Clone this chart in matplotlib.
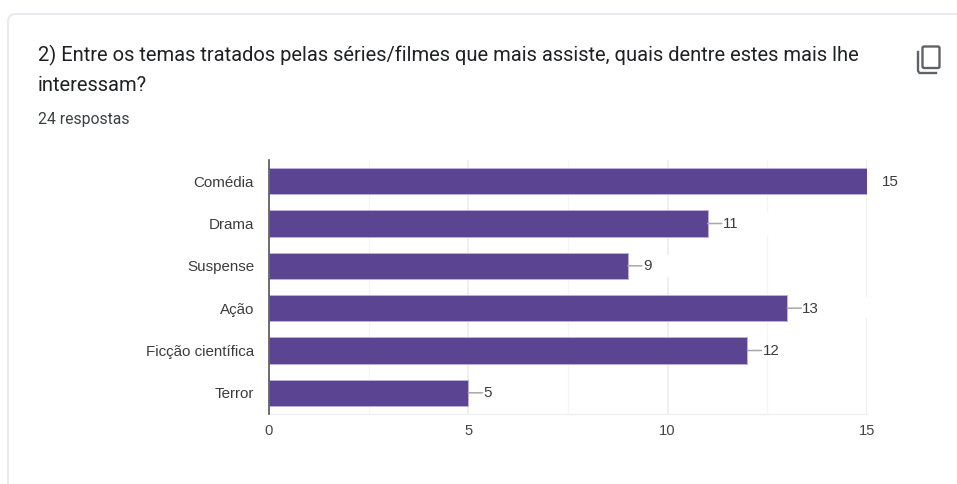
import matplotlib
matplotlib.use("Agg")
import matplotlib.pyplot as plt
from matplotlib.patches import FancyBboxPatch, Rectangle
from matplotlib.lines import Line2D

categories = ["Comédia", "Drama", "Suspense", "Ação", "Ficção científica", "Terror"]
values = [15, 11, 9, 13, 12, 5]
major_ticks = [0, 5, 10, 15]
minor_ticks = [2.5, 7.5, 12.5]
title_lines = ["2) Entre os temas tratados pelas séries/filmes que mais assiste, quais dentre estes mais lhe",
               "interessam?"]
subtitle = "24 respostas"

W, H = 957, 484
fig = plt.figure(figsize=(W / 100, H / 100), dpi=100, facecolor="white")

# Page layer in pixel coordinates
bg = fig.add_axes([0, 0, 1, 1], zorder=0)
bg.set_xlim(0, W); bg.set_ylim(H, 0); bg.axis("off")
bg.add_patch(FancyBboxPatch((8, 14), W + 40, H + 40, boxstyle="round,pad=0,rounding_size=8",
                            fc="white", ec="#ebebef", lw=1.5))
bg.text(38, 55, title_lines[0], family="Roboto", fontsize=14.5, color="#202124", va="center", ha="left")
bg.text(38, 85.5, title_lines[1], family="Roboto", fontsize=14.5, color="#202124", va="center", ha="left")
bg.text(38, 119.5, subtitle, family="Roboto", fontsize=11.3, color="#3c4043", va="center", ha="left")

# Copy icon
bg.add_patch(FancyBboxPatch((922.5, 46.5), 17, 21.5, boxstyle="round,pad=0,rounding_size=1.5",
                            fc="none", ec="#5f6368", lw=1.7))
bg.add_line(Line2D([918, 918, 919.5, 936], [52, 71, 73, 73], color="#5f6368", lw=1.7))

# Chart
ax = fig.add_axes([269 / W, 1 - 414 / H, (867 - 269) / W, (414 - 160) / H], zorder=1)
ax.patch.set_alpha(0)
ypos = list(range(len(categories)))
ax.barh(ypos, values, height=0.62, color="#5b4491", edgecolor="#bcb0d6", linewidth=0.7, zorder=3)
ax.set_xlim(0, 15)
ax.set_ylim(len(categories) - 0.5, -0.5)
ax.set_yticks(ypos, categories)
ax.set_xticks(major_ticks, [str(t) for t in major_ticks])
ax.set_xticks(minor_ticks, minor=True)
ax.tick_params(axis="both", which="both", length=0)
ax.tick_params(axis="y", pad=10.8, labelsize=10.9, labelcolor="#3c3c3c")
ax.tick_params(axis="x", pad=7.5, labelsize=10.6, labelcolor="#444444")
for lab in ax.get_yticklabels() + ax.get_xticklabels():
    lab.set_family("Liberation Sans")
ax.grid(axis="x", which="major", color="#ebebef", lw=1.1, zorder=0)
ax.grid(axis="x", which="minor", color="#f5f5f7", lw=1.0, zorder=0)
ax.set_axisbelow(True)
for s in ("top", "right"):
    ax.spines[s].set_visible(False)
ax.spines["bottom"].set_color("#f0f0f3")
ax.spines["bottom"].set_linewidth(1)
ax.spines["left"].set_color("#555555")
ax.spines["left"].set_linewidth(1.2)
ax.spines["left"].set_zorder(5)

# Gaps in the gridlines next to some labels, as in the source screenshot
for x0, y0, w, h in [(650, 255, 30, 22), (745, 213, 50, 22), (830, 297, 40, 21)]:
    ax.add_patch(Rectangle((x0, y0), w, h, transform=bg.transData, fc="white", ec="none",
                           zorder=1.5, clip_on=False))

for y, v in zip(ypos, values):
    if v != max(values):
        ax.annotate("", (v, y), xytext=(10.2, 0), textcoords="offset points", annotation_clip=False,
                    arrowprops=dict(arrowstyle="-", color="#a8a8a8", lw=1.1, shrinkA=0, shrinkB=0))
    ax.annotate(str(v), (v, y), xytext=(10.8, -0.4), textcoords="offset points", va="center", ha="left",
                family="Liberation Sans", fontsize=10.9, color="#3c3c3c", annotation_clip=False)

fig.savefig("out.png", dpi=100)
